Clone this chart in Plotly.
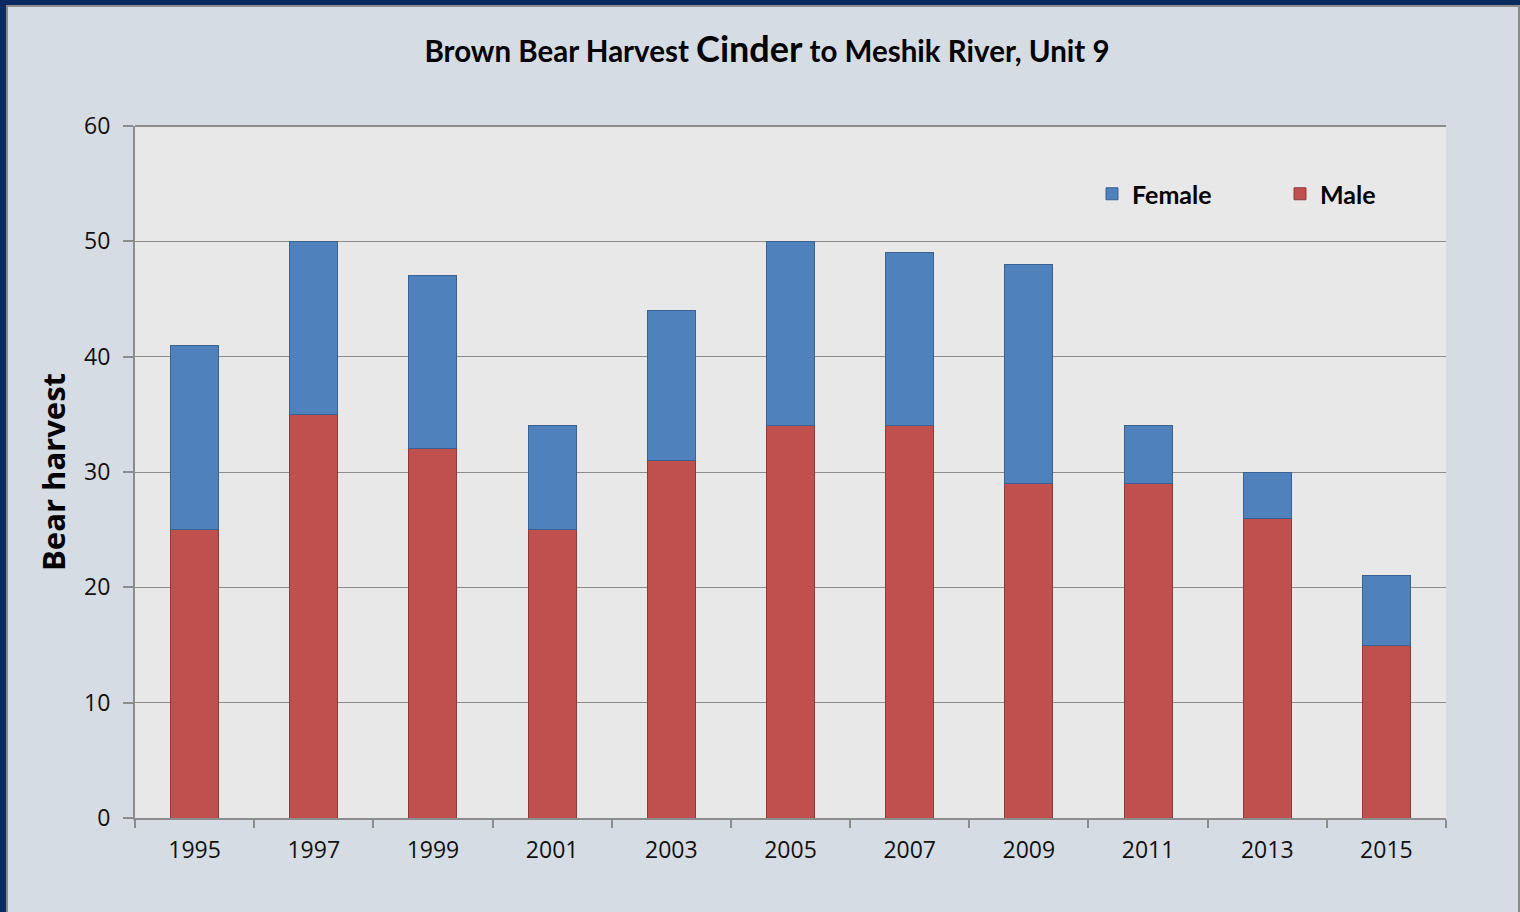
import plotly.graph_objects as go

years = ["1995", "1997", "1999", "2001", "2003", "2005", "2007", "2009", "2011", "2013", "2015"]
male = [25, 35, 32, 25, 31, 34, 34, 29, 29, 26, 15]
female = [16, 15, 15, 9, 13, 16, 15, 19, 5, 4, 6]
y_ticks = [0, 10, 20, 30, 40, 50, 60]

W, H = 1520, 912
L, R, T, B = 135, 74, 126, 94
pw, ph = W - L - R, H - T - B

def px_x(p):
    return (p - L) / pw

def px_y(p):
    return (H - B - p) / ph

fig = go.Figure()
fig.add_trace(go.Bar(x=years, y=male, name="Male", legend="legend2", showlegend=True,
                     marker=dict(color="#C0504D", line=dict(color="#8E3A38", width=1))))
fig.add_trace(go.Bar(x=years, y=female, name="Female", legend="legend", showlegend=True,
                     marker=dict(color="#4F81BD", line=dict(color="#3A6190", width=1))))

shapes = [
    dict(type="rect", xref="paper", yref="paper", x0=px_x(0), x1=px_x(W), y0=px_y(0), y1=px_y(5),
         fillcolor="#0B2A60", line=dict(width=0), layer="above"),
    dict(type="rect", xref="paper", yref="paper", x0=px_x(0), x1=px_x(6), y0=px_y(0), y1=px_y(H),
         fillcolor="#0B2A60", line=dict(width=0), layer="above"),
    dict(type="line", xref="paper", yref="paper", x0=px_x(6), x1=px_x(W), y0=px_y(6), y1=px_y(6),
         line=dict(color="#8C8C8C", width=2), layer="above"),
    dict(type="line", xref="paper", yref="paper", x0=px_x(7), x1=px_x(7), y0=px_y(6), y1=px_y(H),
         line=dict(color="#8C8C8C", width=2), layer="above"),
    dict(type="line", xref="paper", yref="paper", x0=px_x(1519), x1=px_x(1519), y0=px_y(6), y1=px_y(H),
         line=dict(color="#8C8C8C", width=2), layer="above"),
    # top gridline at the 60 level
    dict(type="line", xref="paper", yref="paper", x0=0, x1=1, y0=1, y1=1,
         line=dict(color="#8C8C8C", width=2), layer="above"),
]

legend_font = dict(family="Lato, sans-serif", size=25, color="#000000", weight="bold")

fig.update_layout(
    width=W, height=H,
    margin=dict(l=L, r=R, t=T, b=B, autoexpand=False),
    barmode="stack", bargap=0.597, showlegend=True,
    paper_bgcolor="#D6DCE4", plot_bgcolor="#E8E8E8",
    font=dict(family="Open Sans, sans-serif", color="#111111"),
    title=dict(
        text="Brown Bear Harvest <span style='font-size:36px'>Cinder</span> to Meshik River, Unit 9",
        font=dict(family="Lato, sans-serif", size=29.5, color="#000000", weight="bold"),
        x=767 / W, xanchor="center", y=1 - 52 / H, yanchor="middle",
    ),
    legend=dict(
        orientation="h", x=px_x(1092), y=px_y(194), xanchor="left", yanchor="middle",
        font=legend_font, bgcolor="rgba(0,0,0,0)",
    ),
    legend2=dict(
        orientation="h", x=px_x(1280), y=px_y(194), xanchor="left", yanchor="middle",
        font=legend_font, bgcolor="rgba(0,0,0,0)",
    ),
    xaxis=dict(
        type="category", tickson="boundaries", ticks="outside", ticklen=8, tickwidth=2,
        tickcolor="#8C8C8C", showline=True, linecolor="#8C8C8C", linewidth=2,
        tickfont=dict(size=23), showgrid=False, ticklabelstandoff=10,
    ),
    yaxis=dict(
        range=[0, 60], tickvals=y_ticks, ticks="outside", ticklen=10, tickwidth=2,
        tickcolor="#8C8C8C", showline=True, linecolor="#8C8C8C", linewidth=2,
        gridcolor="#8C8C8C", gridwidth=1, tickfont=dict(size=23), zeroline=False,
        ticklabelstandoff=8,
        title=dict(text="Bear harvest", font=dict(family="Open Sans, sans-serif", size=31,
                                                   color="#000000", weight="bold"), standoff=9),
    ),
    shapes=shapes,
)

fig.write_html("out.html", config={"displayModeBar": False},
               post_script="document.body.style.margin='0';")
